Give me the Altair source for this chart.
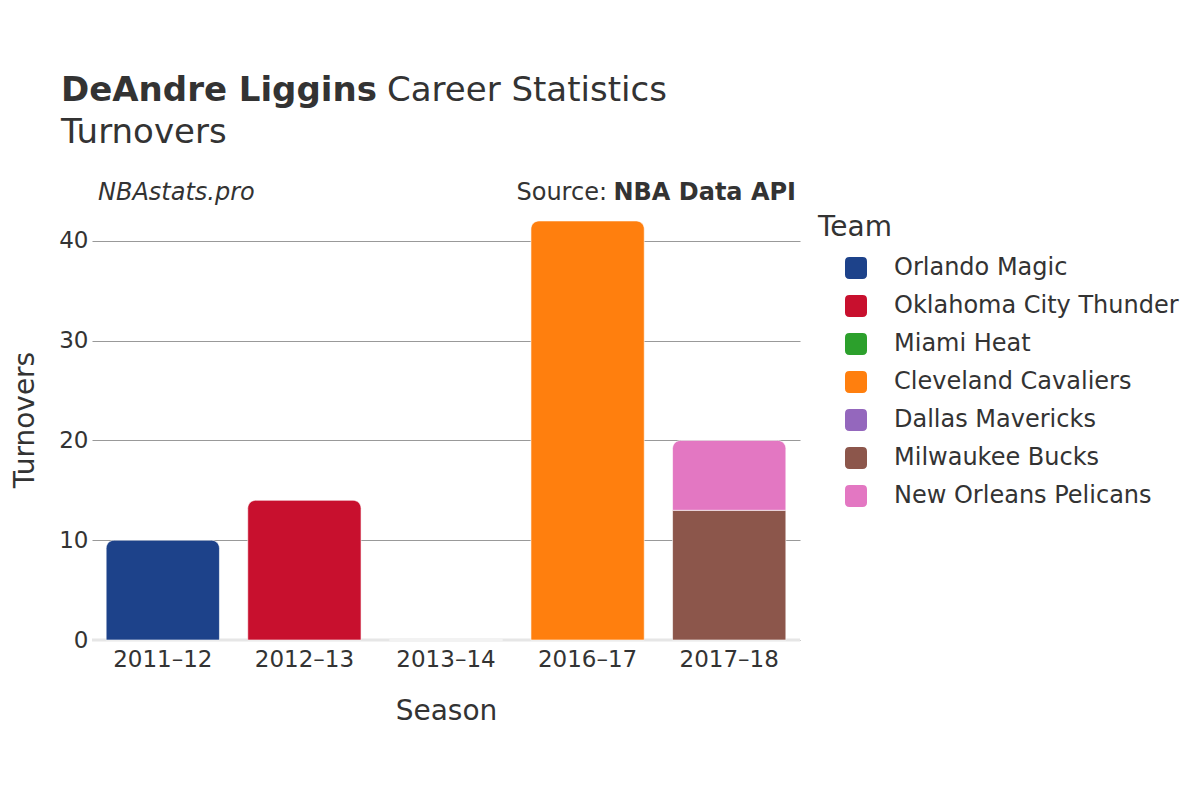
import altair as alt
import pandas as pd

# ---- data ----
seasons = ["2011–12", "2012–13", "2013–14", "2016–17", "2017–18"]
teams = ["Orlando Magic", "Oklahoma City Thunder", "Miami Heat", "Cleveland Cavaliers",
         "Dallas Mavericks", "Milwaukee Bucks", "New Orleans Pelicans"]
team_colors = ["#1d428a", "#c8102e", "#2ca02c", "#ff7f0e", "#9467bd", "#8c564b", "#e377c2"]

row_season = ["2011–12", "2012–13", "2013–14", "2016–17", "2016–17", "2017–18", "2017–18"]
row_team = ["Orlando Magic", "Oklahoma City Thunder", "Miami Heat", "Cleveland Cavaliers",
            "Dallas Mavericks", "Milwaukee Bucks", "New Orleans Pelicans"]
row_value = [10, 14, 0, 42, 0, 13, 7]

y_ticks = [0, 10, 20, 30, 40]
y_max = 44.2

title_bold = "DeAndre Liggins"
title_rest = "Career Statistics"
subtitle = "Turnovers"
credit = "NBAstats.pro"
source_label = "Source:"
source_name = "NBA Data API"

FONT = "DejaVu Sans"
TEXT = "#333333"

df = pd.DataFrame({
    "season": row_season,
    "team": row_team,
    "value": row_value,
    "order": list(range(len(row_value))),
})

W, H = 708, 441

xenc = alt.X("season:N", scale=alt.Scale(domain=seasons, paddingInner=0.2, paddingOuter=0.1),
             axis=alt.Axis(title="Season", labelAngle=0, labelFontSize=23, titleFontSize=28,
                           labelPadding=8, titlePadding=26, ticks=False, domain=False,
                           labelColor=TEXT, titleColor=TEXT, labelFont=FONT, titleFont=FONT,
                           titleFontWeight="normal"))
yenc_axis = alt.Axis(title="Turnovers", values=y_ticks, labelFontSize=23, titleFontSize=28,
                     labelPadding=4, titlePadding=19, ticks=False, domain=False,
                     grid=True, gridColor="#999999", gridWidth=1,
                     labelColor=TEXT, titleColor=TEXT, labelFont=FONT, titleFont=FONT,
                     titleFontWeight="normal")
yscale = alt.Scale(domain=[0, y_max], nice=False, zero=True)

color = alt.Color("team:N",
                  scale=alt.Scale(domain=teams, range=team_colors),
                  legend=alt.Legend(title="Team", orient="none", legendX=726, legendY=15,
                                    titleFontSize=28, labelFontSize=24, titleFont=FONT,
                                    labelFont=FONT, titleColor=TEXT, labelColor=TEXT,
                                    titleFontWeight="normal",
                                    symbolType="M -0.6,-1 L 0.6,-1 Q 1,-1 1,-0.6 L 1,0.6 Q 1,1 0.6,1 L -0.6,1 Q -1,1 -1,0.6 L -1,-0.6 Q -1,-1 -0.6,-1 Z",
                                    symbolSize=484, symbolStrokeWidth=0, symbolOpacity=1,
                                    symbolOffset=26, labelOffset=26, rowPadding=14,
                                    titlePadding=14, labelLimit=400))

base = alt.Chart(df).transform_stack(
    stack="value", groupby=["season"], as_=["y0", "y1"], sort=[alt.SortField("order")]
).transform_joinaggregate(
    maxEnd="max(y1)", groupby=["season"]
).transform_calculate(
    top="datum.y1 == datum.maxEnd && datum.value > 0"
)

zero_line = alt.Chart(pd.DataFrame({"z": [0]})).mark_rule(color="#e6e6e6", strokeWidth=3).encode(
    y=alt.Y("z:Q", scale=yscale)
)

bars_lower = base.transform_filter("!datum.top").mark_bar(stroke="white", strokeWidth=1, strokeOpacity=0.6).encode(
    x=xenc,
    y=alt.Y("y0:Q", scale=yscale, axis=yenc_axis),
    y2="y1:Q",
    color=color,
)
bars_top = base.transform_filter("datum.top").mark_bar(
    stroke="white", strokeWidth=1, strokeOpacity=0.6,
    cornerRadiusTopLeft=8, cornerRadiusTopRight=8
).encode(
    x=xenc,
    y=alt.Y("y0:Q", scale=yscale, axis=yenc_axis),
    y2="y1:Q",
    color=color,
)

def txt(s, x, y, size, weight="normal", style="normal", align="left"):
    return alt.Chart(pd.DataFrame({"t": [s]})).mark_text(
        align=align, baseline="alphabetic", font=FONT, fontSize=size,
        fontWeight=weight, fontStyle=style, color=TEXT
    ).encode(text="t:N", x=alt.value(x), y=alt.value(y))

texts = [
    txt(title_bold, -31, -98, 34, weight="bold"),
    txt(title_rest, 295, -98, 34),
    txt(subtitle, -31, -56, 34),
    txt(credit, 6, 1, 24, style="italic"),
    txt(source_label, 515, 1, 24, align="right"),
    txt(source_name, 704, 1, 24, weight="bold", align="right"),
]

chart = alt.layer(zero_line, bars_lower, bars_top, *texts).resolve_scale(
    color="shared"
).properties(
    width=W, height=H,
    background="white",
    autosize=alt.AutoSizeParams(type="none"),
    padding={"left": 84, "top": 191, "right": 392, "bottom": 152},
).configure_view(stroke=None)

chart.save("out.html", embed_options={"renderer": "svg", "actions": False})
